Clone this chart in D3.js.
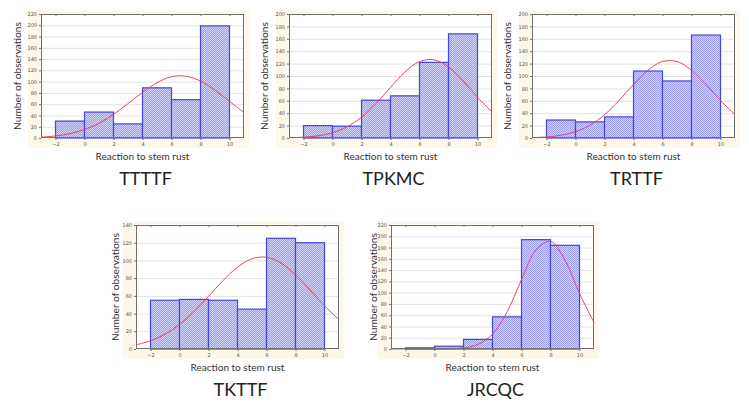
<!DOCTYPE html>
<html>
<head>
<meta charset="utf-8">
<script src="https://cdnjs.cloudflare.com/ajax/libs/d3/7.8.5/d3.min.js"></script>
<style>
  html, body { margin: 0; padding: 0; background: #ffffff; }
  svg { display: block; }
</style>
</head>
<body>
<svg id="chart" width="749" height="407"></svg>
<script>
// ---------------- data ----------------
const binStarts = [-2, 0, 2, 4, 6, 8];
const binWidth = 2;
const xTickValues = [-2, 0, 2, 4, 6, 8, 10];
const curveX = [-3, -2, -1, 0, 1, 2, 3, 4, 5, 6, 7, 8, 9, 10, 11];

const panelNames = ["TTTTF", "TPKMC", "TRTTF", "TKTTF", "JRCQC"];
const yMaxes = [220, 200, 200, 140, 220];

const countsTTTTF = [30, 46, 25, 89, 68, 199];
const countsTPKMC = [20, 19, 61, 68, 122, 168];
const countsTRTTF = [29, 26, 34, 108, 92, 166];
const countsTKTTF = [55, 56, 55, 45, 125, 120];
const countsJRCQC = [2, 5, 17, 57, 194, 184];

const curveTTTTF = [1.6, 3.7, 7.8, 15, 26, 42, 61, 81, 98, 108.7, 109.7, 101, 85, 65, 45];
const curveTPKMC = [0.5, 1.3, 3.5, 8.4, 18, 33.5, 55.6, 81.7, 106.6, 123.2, 126.2, 114.6, 92.3, 65.8, 41.8];
const curveTRTTF = [0.6, 1.7, 4.4, 10.2, 20.7, 37.5, 60.5, 86.3, 109.5, 123.4, 123.4, 109.5, 86.3, 60.5, 37.5];
const curveTKTTF = [4.7, 9.3, 16.7, 27.6, 42.2, 59.5, 77.2, 92.4, 101.9, 103.6, 97, 83.8, 66.6, 48.8, 33];
const curveJRCQC = [0, 0, 0, 0.05, 0.3, 1.9, 8.1, 26.4, 65.4, 123, 176, 191, 157.5, 98.7, 47];

const xTitle = "Reaction to stem rust";
const yTitle = "Number of observations";

// ---------------- layout ----------------
const panelCounts = [countsTTTTF, countsTPKMC, countsTRTTF, countsTKTTF, countsJRCQC];
const panelCurves = [curveTTTTF, curveTPKMC, curveTRTTF, curveTKTTF, curveJRCQC];
const positions = [
  { left: 41, top: 14, yTitleDx: -24 },
  { left: 289, top: 14, yTitleDx: -25 },
  { left: 532, top: 14, yTitleDx: -25 },
  { left: 136, top: 225, yTitleDx: -21 },
  { left: 391, top: 225, yTitleDx: -18 }
];
const PW = 203, PH = 124;

const svg = d3.select("#chart");

const defs = svg.append("defs");
const pat = defs.append("pattern")
  .attr("id", "hatch")
  .attr("patternUnits", "userSpaceOnUse")
  .attr("width", 2).attr("height", 2);
pat.append("rect").attr("width", 2).attr("height", 2).attr("fill", "#d2d3fc");
pat.append("rect").attr("width", 1).attr("height", 1).attr("fill", "#9c9cf0");
pat.append("rect").attr("x", 1).attr("y", 1).attr("width", 1).attr("height", 1).attr("fill", "#9c9cf0");

const textFont = "Lato, 'Open Sans', 'Noto Sans', sans-serif";

panelNames.forEach((name, i) => {
  const pos = positions[i];
  const g = svg.append("g").attr("transform", `translate(${pos.left},${pos.top})`);

  const x = d3.scaleLinear().domain([-3, 11]).range([0, PW]);
  const y = d3.scaleLinear().domain([0, yMaxes[i]]).range([PH, 0]);
  const yTicks = d3.range(0, yMaxes[i] + 1, 20);

  // cream backdrop
  g.append("rect")
    .attr("x", -13).attr("y", -4)
    .attr("width", PW + 18).attr("height", PH + 14)
    .attr("fill", "#fdf8ea");

  // white plot area
  g.append("rect")
    .attr("x", 0).attr("y", 0).attr("width", PW).attr("height", PH)
    .attr("fill", "#ffffff");

  // gridlines
  g.append("g").selectAll("line").data(yTicks.slice(1)).join("line")
    .attr("x1", 0).attr("x2", PW)
    .attr("y1", d => y(d) + 0.5).attr("y2", d => y(d) + 0.5)
    .attr("stroke", "#e2e2e2").attr("stroke-width", 1);

  // bars
  g.append("g").selectAll("rect").data(panelCounts[i]).join("rect")
    .attr("x", (d, j) => x(binStarts[j]))
    .attr("y", d => y(d))
    .attr("width", x(binWidth) - x(0))
    .attr("height", d => y(0) - y(d))
    .attr("fill", "url(#hatch)")
    .attr("stroke", "#4444e0")
    .attr("stroke-width", 1.2);

  // fitted curve
  const line = d3.line()
    .x((d, j) => x(curveX[j]))
    .y(d => y(d))
    .curve(d3.curveCatmullRom.alpha(0.5));
  g.append("path")
    .datum(panelCurves[i])
    .attr("d", line)
    .attr("fill", "none")
    .attr("stroke", "#e64858")
    .attr("stroke-width", 1);

  // frame
  g.append("rect")
    .attr("x", 0.5).attr("y", 0.5).attr("width", PW - 1).attr("height", PH - 1)
    .attr("fill", "none").attr("stroke", "#707070").attr("stroke-width", 1);

  // axes
  const xAxis = d3.axisBottom(x).tickValues(xTickValues).tickSize(2).tickPadding(2);
  const gx = g.append("g").attr("transform", `translate(0,${PH})`).call(xAxis);
  const xTop = d3.axisTop(x).tickValues(xTickValues).tickSize(-2).tickFormat("");
  const gxt = g.append("g").call(xTop);
  const yAxis = d3.axisLeft(y).tickValues(yTicks).tickSize(2).tickPadding(2);
  const gy = g.append("g").call(yAxis);
  [gx, gxt, gy].forEach(a => {
    a.select(".domain").remove();
    a.selectAll(".tick line").attr("stroke", "#707070");
    a.selectAll(".tick text")
      .attr("fill", "#555")
      .attr("font-size", 5)
      .attr("font-family", "'DejaVu Sans', sans-serif");
  });

  // axis titles
  g.append("text")
    .attr("x", PW / 2).attr("y", PH + 22)
    .attr("text-anchor", "middle")
    .attr("font-family", textFont)
    .attr("font-size", 10)
    .attr("fill", "#333")
    .text(xTitle);

  g.append("text")
    .attr("transform", `translate(${pos.yTitleDx},${PH / 2}) rotate(-90)`)
    .attr("text-anchor", "middle")
    .attr("dominant-baseline", "central")
    .attr("font-family", textFont)
    .attr("font-size", 10.2)
    .attr("fill", "#333")
    .text(yTitle);

  // panel label
  g.append("text")
    .attr("x", PW / 2 + 3).attr("y", PH + 46.5)
    .attr("text-anchor", "middle")
    .attr("font-family", textFont)
    .attr("font-size", 18)
    .attr("fill", "#222")
    .text(name);
});
</script>
</body>
</html>
